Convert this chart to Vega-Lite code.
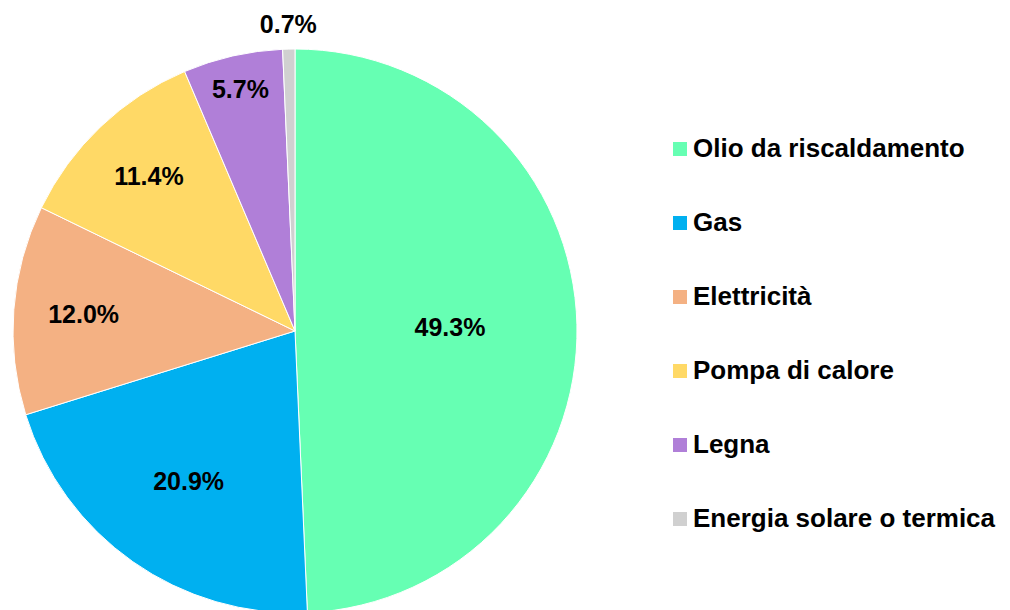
{
  "$schema": "https://vega.github.io/schema/vega-lite/v6.json",
  "autosize": "none",
  "width": 590,
  "height": 662,
  "padding": {"left": 0, "top": 0, "right": 420, "bottom": 0},
  "background": "white",
  "config": {"view": {"stroke": null}, "font": "Liberation Sans"},
  "data": {"values": [
    {"ord": 1, "fonte": "Olio da riscaldamento", "pct": 0.493},
    {"ord": 2, "fonte": "Gas", "pct": 0.209},
    {"ord": 3, "fonte": "Elettricità", "pct": 0.120},
    {"ord": 4, "fonte": "Pompa di calore", "pct": 0.114},
    {"ord": 5, "fonte": "Legna", "pct": 0.057},
    {"ord": 6, "fonte": "Energia solare o termica", "pct": 0.007}
  ]},
  "transform": [
    {"stack": "pct", "groupby": [], "sort": [{"field": "ord", "order": "ascending"}], "as": ["t0", "t1"]},
    {"calculate": "(datum.t0 + datum.t1) / 2", "as": "tmid"}
  ],
  "encoding": {
    "color": {
      "field": "fonte", "type": "nominal",
      "scale": {
        "domain": ["Olio da riscaldamento", "Gas", "Elettricità", "Pompa di calore", "Legna", "Energia solare o termica"],
        "range": ["#66FFB3", "#00B0F0", "#F4B183", "#FFD966", "#B07FD8", "#D0D0D0"]
      },
      "legend": {
        "title": null, "orient": "none", "legendX": 667, "legendY": 136,
        "symbolType": "square", "symbolSize": 196, "symbolStrokeWidth": 0,
        "labelFont": "Liberation Sans", "labelFontWeight": "bold", "labelFontSize": 26,
        "labelColor": "#000000", "labelOffset": 0, "rowPadding": 48, "labelLimit": 400, "padding": 0
      }
    }
  },
  "layer": [
    {
      "mark": {"type": "arc", "outerRadius": 282, "stroke": "white", "strokeWidth": 1},
      "encoding": {
        "theta": {"field": "t0", "type": "quantitative", "scale": {"domain": [0, 1]}},
        "theta2": {"field": "t1"}
      }
    },
    {
      "transform": [{"filter": "datum.ord == 1"}],
      "mark": {"type": "text", "radius": 155, "font": "Liberation Sans", "fontWeight": "bold", "fontSize": 25, "fill": "#000000"},
      "encoding": {
        "theta": {"field": "tmid", "type": "quantitative", "scale": {"domain": [0, 1]}},
        "text": {"field": "pct", "type": "quantitative", "format": ".1%"},
        "color": {"value": "#000000"}
      }
    },
    {
      "transform": [{"filter": "datum.ord == 2"}],
      "mark": {"type": "text", "radius": 185, "font": "Liberation Sans", "fontWeight": "bold", "fontSize": 25, "fill": "#000000"},
      "encoding": {
        "theta": {"field": "tmid", "type": "quantitative", "scale": {"domain": [0, 1]}},
        "text": {"field": "pct", "type": "quantitative", "format": ".1%"},
        "color": {"value": "#000000"}
      }
    },
    {
      "transform": [{"filter": "datum.ord == 3 || datum.ord == 4"}],
      "mark": {"type": "text", "radius": 212, "font": "Liberation Sans", "fontWeight": "bold", "fontSize": 25, "fill": "#000000"},
      "encoding": {
        "theta": {"field": "tmid", "type": "quantitative", "scale": {"domain": [0, 1]}},
        "text": {"field": "pct", "type": "quantitative", "format": ".1%"},
        "color": {"value": "#000000"}
      }
    },
    {
      "transform": [{"filter": "datum.ord == 5"}],
      "mark": {"type": "text", "radius": 247, "font": "Liberation Sans", "fontWeight": "bold", "fontSize": 25, "fill": "#000000"},
      "encoding": {
        "theta": {"field": "tmid", "type": "quantitative", "scale": {"domain": [0, 1]}},
        "text": {"field": "pct", "type": "quantitative", "format": ".1%"},
        "color": {"value": "#000000"}
      }
    },
    {
      "transform": [{"filter": "datum.ord == 6"}],
      "mark": {"type": "text", "radius": 306, "font": "Liberation Sans", "fontWeight": "bold", "fontSize": 25, "fill": "#000000"},
      "encoding": {
        "theta": {"field": "tmid", "type": "quantitative", "scale": {"domain": [0, 1]}},
        "text": {"field": "pct", "type": "quantitative", "format": ".1%"},
        "color": {"value": "#000000"}
      }
    }
  ]
}
